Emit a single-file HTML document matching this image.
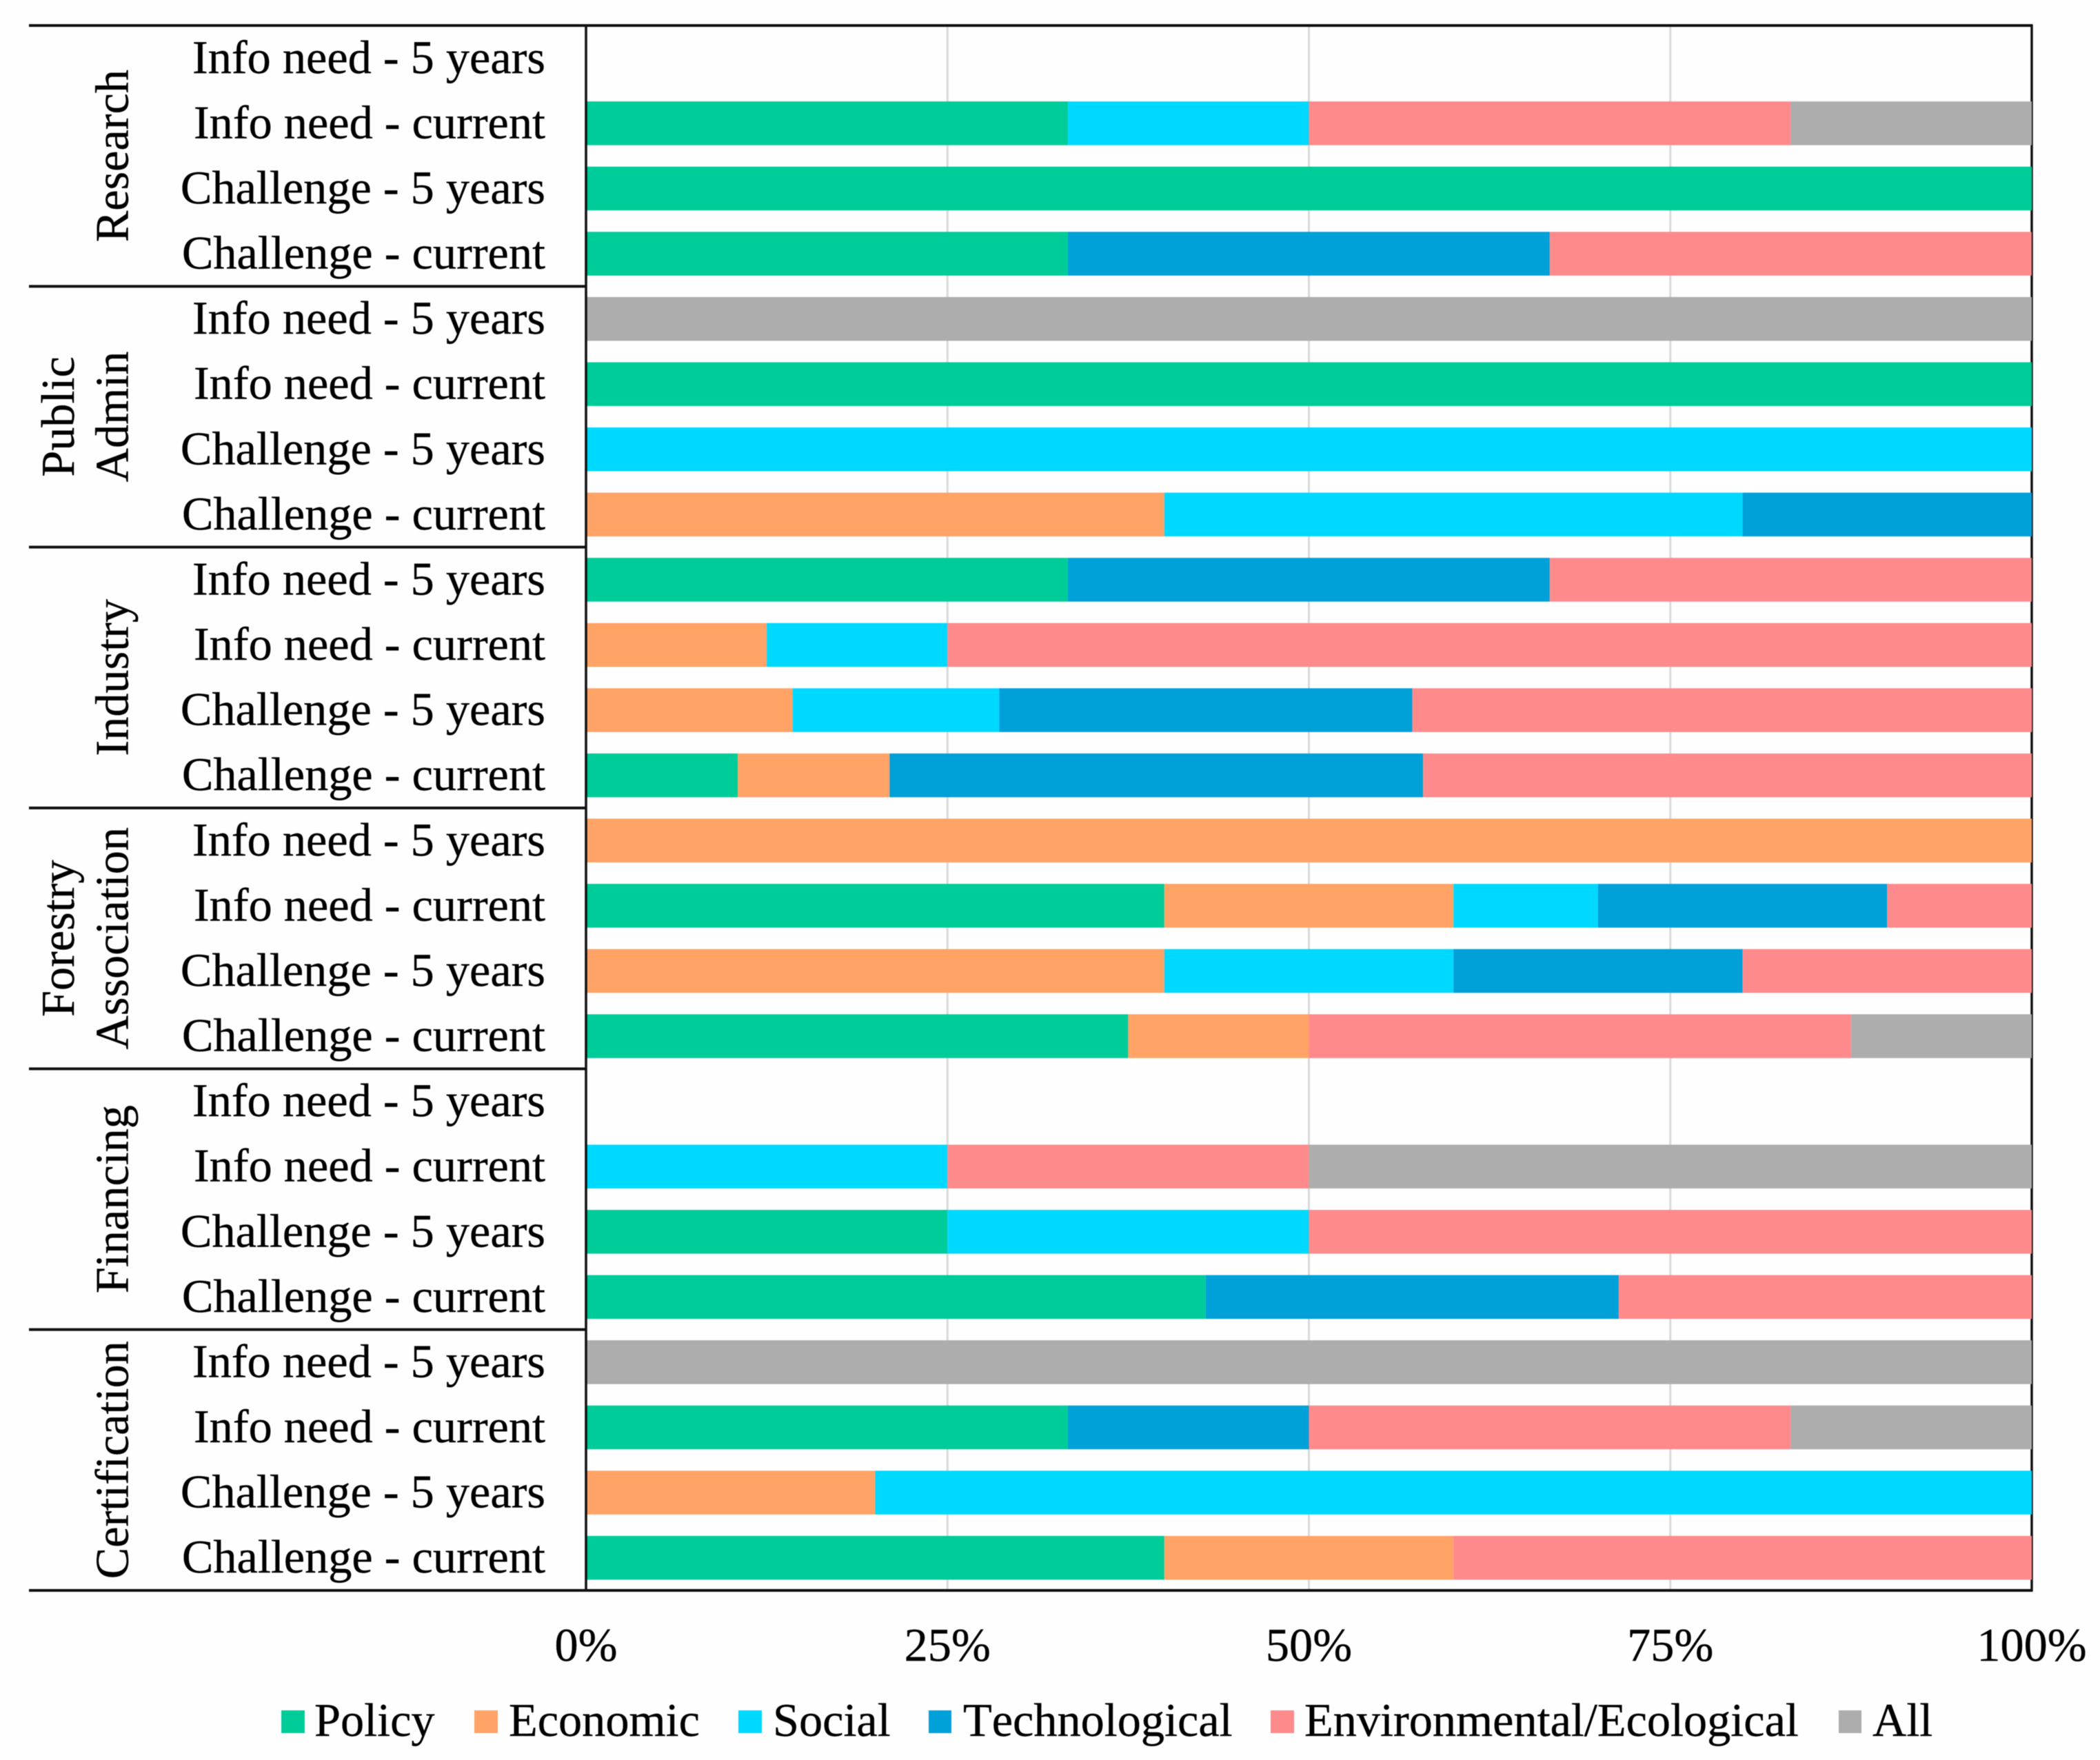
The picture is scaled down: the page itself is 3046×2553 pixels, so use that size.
<!DOCTYPE html>
<html lang="en">
<head>
<meta charset="utf-8">
<title>Challenges and information needs by sector</title>
<style>
html,body{margin:0;padding:0;background:#fff;}
body{width:3046px;height:2553px;overflow:hidden;}
svg{display:block;filter:blur(0.6px);}
text{font-family:"Liberation Serif","Times New Roman",serif;font-size:68.3px;fill:#000;stroke:#000;stroke-width:0.4px;font-kerning:none;text-rendering:geometricPrecision;}
</style>
</head>
<body>
<svg id="chart" xmlns="http://www.w3.org/2000/svg" width="3046" height="2553" viewBox="0 0 3046 2553">
  <rect x="0" y="0" width="3046" height="2553" fill="#fefefe"/>
  <g id="grid"></g>
  <line x1="2947" y1="36" x2="2947" y2="2308" stroke="#111" stroke-width="3.5"/>
  <g id="separators"></g>
  <g id="bars"></g>
  <line x1="850" y1="36" x2="850" y2="2308" stroke="#111" stroke-width="3.5"/>
  <g id="rowLabels"></g>
  <g id="groupLabels"></g>
  <g id="xTicks"></g>
  <g>
    <g>
      <rect x="408" y="2481" width="34" height="33" fill="#00cc99"/>
      <text x="456" y="2518">Policy</text>
    </g>
    <g>
      <rect x="688" y="2481" width="34" height="33" fill="#ffa366"/>
      <text x="738" y="2518">Economic</text>
    </g>
    <g>
      <rect x="1071" y="2481" width="34" height="33" fill="#00d9ff"/>
      <text x="1121" y="2518">Social</text>
    </g>
    <g>
      <rect x="1347" y="2481" width="33" height="33" fill="#00a0d9"/>
      <text x="1397" y="2518">Technological</text>
    </g>
    <g>
      <rect x="1843" y="2481" width="34" height="33" fill="#ff8a8c"/>
      <text x="1892" y="2518">Environmental/Ecological</text>
    </g>
    <g>
      <rect x="2667" y="2481" width="33" height="33" fill="#adadad"/>
      <text x="2716" y="2518">All</text>
    </g>
  </g>
</svg>
<script>
// ---- chart data (percent share per row, top row first) ----
var rowCategories = [
  "Info need - 5 years","Info need - current","Challenge - 5 years","Challenge - current",
  "Info need - 5 years","Info need - current","Challenge - 5 years","Challenge - current",
  "Info need - 5 years","Info need - current","Challenge - 5 years","Challenge - current",
  "Info need - 5 years","Info need - current","Challenge - 5 years","Challenge - current",
  "Info need - 5 years","Info need - current","Challenge - 5 years","Challenge - current",
  "Info need - 5 years","Info need - current","Challenge - 5 years","Challenge - current"
];
var groupNames = [["Research"],["Public","Admin"],["Industry"],["Forestry","Association"],["Financing"],["Certification"]];
var xTickValues = [0,25,50,75,100];
var xTickLabels = ["0%","25%","50%","75%","100%"];
var policy        = [0,33.33,100,33.33, 0,100,0,0,   33.33,0,0,10.5,       0,40,0,37.5,    0,0,25,42.86,    0,33.33,0,40];
var economic      = [0,0,0,0,           0,0,0,40,    0,12.5,14.29,10.5,    100,20,40,12.5, 0,0,0,0,         0,0,20,20];
var social        = [0,16.67,0,0,       0,0,100,40,  0,12.5,14.29,0,       0,10,20,0,      0,25,25,0,       0,0,80,0];
var technological = [0,0,0,33.33,       0,0,0,20,    33.33,0,28.57,36.9,   0,20,20,0,      0,0,0,28.57,     0,16.67,0,0];
var environmental = [0,33.33,0,33.33,   0,0,0,0,     33.33,75,42.86,42.1,  0,10,20,37.5,   0,25,50,28.57,   0,33.33,0,40];
var allAspects    = [0,16.67,0,0,       100,0,0,0,   0,0,0,0,              0,0,0,12.5,     0,50,0,0,        100,16.67,0,0];
var seriesNames = ["policy","economic","social","technological","environmental-ecological","all"];
var seriesValues = [policy,economic,social,technological,environmental,allAspects];
var seriesColors = ["#00cc99","#ffa366","#00d9ff","#00a0d9","#ff8a8c","#adadad"];

// ---- axes ----
var NS = "http://www.w3.org/2000/svg";
var plotLeft = 850, plotRight = 2947, plotTop = 37, plotBottom = 2307;
var rowsPerGroup = 4;
var rowStep = (plotBottom - plotTop) / rowCategories.length;
var barHeight = 63.5;
function xScale(v){ return plotLeft + (v / 100) * (plotRight - plotLeft); }
function rowCenter(i){ return plotTop + (i + 0.5) * rowStep; }
function svgEl(tag, attrs){
  var el = document.createElementNS(NS, tag);
  for (var k in attrs) el.setAttribute(k, attrs[k]);
  return el;
}
var grid = document.getElementById("grid");
var xTicks = document.getElementById("xTicks");
xTickValues.forEach(function(v, i){
  if (v > 0 && v < 100) {
    var g = svgEl("line", {x1:xScale(v), x2:xScale(v), y1:plotTop, y2:plotBottom, stroke:"#d9d9d9", "stroke-width":3});
    
    
    grid.appendChild(g);
  }
  var t = svgEl("text", {x:xScale(v), y:2409, "text-anchor":"middle"});
  
  
  t.textContent = xTickLabels[i];
  xTicks.appendChild(t);
});

// ---- group separators and labels ----
var separators = document.getElementById("separators");
var groupLabels = document.getElementById("groupLabels");
for (var s = 0; s <= groupNames.length; s++) {
  var sepY = plotTop + s * rowsPerGroup * rowStep;
  var isOuter = (s === 0 || s === groupNames.length);
  var sep = svgEl("line", {x1:42, x2:isOuter ? plotRight + 1.5 : plotLeft, y1:sepY, y2:sepY, stroke:"#111", "stroke-width":4});
  
  
  separators.appendChild(sep);
}
groupNames.forEach(function(lines, gi){
  var cy = plotTop + (gi + 0.5) * rowsPerGroup * rowStep;
  var baselines = lines.length === 2 ? [107, 185.5] : [185.5];
  lines.forEach(function(line, li){
    var t = svgEl("text", {"text-anchor":"middle", transform:"translate(" + baselines[li] + " " + cy + ") rotate(-90)"});
    
    
    t.textContent = line;
    groupLabels.appendChild(t);
  });
});

// ---- row labels ----
var rowLabels = document.getElementById("rowLabels");
rowCategories.forEach(function(label, i){
  var t = svgEl("text", {x:791, y:rowCenter(i) + 21.5, "text-anchor":"end"});
  
  
  t.textContent = label;
  rowLabels.appendChild(t);
});

// ---- stacked bars ----
var bars = document.getElementById("bars");
rowCategories.forEach(function(label, i){
  var cum = 0;
  seriesValues.forEach(function(values, si){
    var v = values[i];
    if (v > 0) {
      var x0 = xScale(cum), x1 = xScale(cum + v);
      var r = svgEl("rect", {x:x0, y:rowCenter(i) - barHeight / 2, width:x1 - x0, height:barHeight, fill:seriesColors[si]});
      
      
      bars.appendChild(r);
    }
    cum += v;
  });
});
</script>
</body>
</html>
